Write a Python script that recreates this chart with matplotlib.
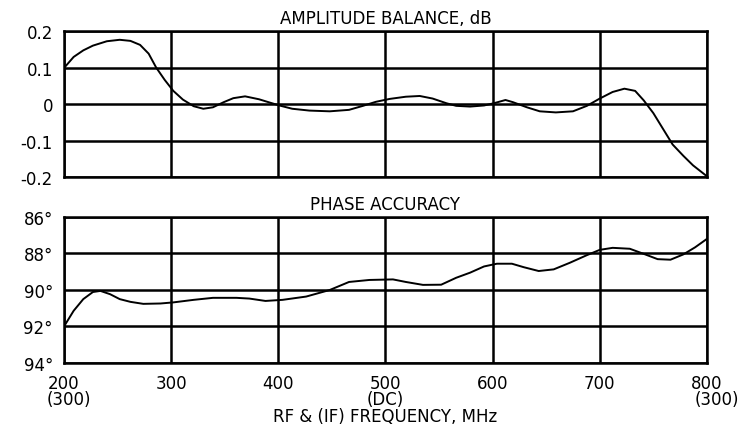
import matplotlib
matplotlib.use("Agg")
import matplotlib.pyplot as plt
import matplotlib.transforms as mtransforms

# amplitude balance (dB)
amp_freq = [200, 201, 209, 218, 227, 240, 252, 262, 271, 279, 286, 294, 302, 311,
            321, 330, 339, 349, 358, 369, 382, 392, 401, 413, 429, 448, 466, 479,
            491, 504, 519, 532, 544, 557, 566, 579, 592, 601, 612, 619, 632, 644,
            659, 675, 688, 700, 712, 723, 733, 741, 750, 759, 768, 778, 787, 800]
amp_db = [0.100, 0.102, 0.129, 0.147, 0.160, 0.172, 0.176, 0.173, 0.162, 0.138,
          0.100, 0.066, 0.036, 0.012, -0.006, -0.013, -0.009, 0.005, 0.016, 0.021,
          0.013, 0.004, -0.004, -0.013, -0.018, -0.020, -0.016, -0.005, 0.006,
          0.014, 0.020, 0.022, 0.015, 0.002, -0.005, -0.007, -0.004, 0.002, 0.011,
          0.005, -0.009, -0.020, -0.023, -0.020, -0.005, 0.015, 0.033, 0.042,
          0.036, 0.010, -0.025, -0.068, -0.111, -0.142, -0.168, -0.198]

# phase accuracy (degrees)
ph_freq = [200, 209, 218, 227, 234, 243, 252, 262, 274, 290, 302, 321, 339, 361,
           373, 388, 404, 426, 448, 466, 485, 507, 519, 535, 552, 566, 579, 592,
           604, 618, 629, 643, 657, 672, 688, 700, 712, 728, 741, 754, 766, 778,
           789, 800]
ph_deg = [92.0, 91.14, 90.5, 90.11, 90.05, 90.23, 90.5, 90.65, 90.76, 90.74,
          90.68, 90.54, 90.43, 90.43, 90.47, 90.6, 90.54, 90.36, 90.0, 89.56,
          89.45, 89.42, 89.56, 89.72, 89.71, 89.33, 89.05, 88.71, 88.56, 88.56,
          88.75, 88.96, 88.87, 88.51, 88.09, 87.8, 87.69, 87.74, 88.02, 88.31,
          88.34, 88.05, 87.66, 87.2]

x_ticks = [200, 300, 400, 500, 600, 700, 800]
if_labels = {200: "(300)", 500: "(DC)", 800: "(300)"}
amp_ticks = [0.2, 0.1, 0.0, -0.1, -0.2]
amp_labels = ["0.2", "0.1", "0", "-0.1", "-0.2"]
ph_ticks = [86, 88, 90, 92, 94]
ph_labels = ["86°", "88°", "90°", "92°", "94°"]

plt.rcParams["font.family"] = ["DejaVu Sans"]
fs = 12
grid_lw = 1.8

fig = plt.figure(figsize=(7.39, 4.31), dpi=100)
ax1 = fig.add_axes([0.0866, 0.587, 0.870, 0.3387])
ax2 = fig.add_axes([0.0866, 0.1555, 0.870, 0.3387])

for ax in (ax1, ax2):
    ax.set_xlim(200, 800)
    ax.set_xticks(x_ticks)
    ax.grid(True, color="black", linewidth=grid_lw)
    ax.set_axisbelow(True)
    for s in ax.spines.values():
        s.set_linewidth(grid_lw)
    ax.tick_params(length=0, labelsize=fs, pad=8)

ax1.plot(amp_freq, amp_db, color="black", linewidth=1.4)
ax1.set_ylim(-0.2, 0.2)
ax1.set_yticks(amp_ticks)
ax1.set_yticklabels(amp_labels)
ax1.tick_params(axis="x", labelbottom=False)
ax1.set_title("AMPLITUDE BALANCE, dB", fontsize=fs, pad=6)

ax2.plot(ph_freq, ph_deg, color="black", linewidth=1.4)
ax2.set_ylim(94, 86)
ax2.set_yticks(ph_ticks)
ax2.set_yticklabels(ph_labels)
ax2.set_xticklabels([str(t) for t in x_ticks])
ax2.set_title("PHASE ACCURACY", fontsize=fs, pad=6)

trans = mtransforms.blended_transform_factory(ax2.transData, ax2.transAxes)
for f, lab in if_labels.items():
    ha = {200: "left", 800: "right"}.get(f, "center")
    xoff = {200: -16, 800: 30}.get(f, 0)
    ax2.text(f + xoff, -0.25, lab, transform=trans, ha=ha, va="center", fontsize=fs)

ax2.set_xlabel("RF & (IF) FREQUENCY, MHz", fontsize=fs, labelpad=11)

fig.savefig("out.png", dpi=100)
